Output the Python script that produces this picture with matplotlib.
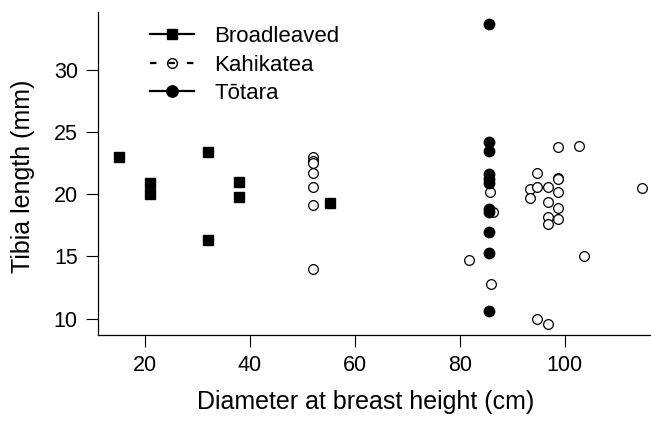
import matplotlib
matplotlib.use("Agg")
import matplotlib.pyplot as plt
from matplotlib.lines import Line2D

plt.rcParams['font.family'] = ['Liberation Sans', 'DejaVu Sans']

# diameter at breast height (cm) and tibia length (mm) by forest type
broad_dbh = [15.1, 21.0, 21.0, 32.0, 32.0, 38.0, 38.0, 55.3]
broad_tibia = [23.0, 20.9, 20.0, 23.4, 16.3, 21.0, 19.8, 19.3]

kahi_dbh = [52.0, 52.0, 52.0, 52.0, 52.0, 52.0, 52.0,
            81.8, 85.7, 86.3, 85.9, 93.3, 93.3, 94.6, 94.7, 94.7,
            96.7, 96.7, 96.7, 96.7, 96.7, 98.7, 98.7, 98.7, 98.7, 98.7, 98.7,
            102.7, 103.7, 114.7]
kahi_tibia = [23.0, 22.7, 22.5, 21.7, 20.6, 19.1, 14.0,
              14.7, 20.2, 18.6, 12.8, 20.4, 19.7, 21.7, 20.6, 10.0,
              20.6, 19.4, 18.2, 17.6, 9.6, 23.8, 21.3, 21.2, 20.2, 18.9, 18.0,
              23.9, 15.0, 20.5]

totara_dbh = [85.5, 85.5, 85.5, 85.5, 85.5, 85.5, 85.5, 85.5, 85.5, 85.5, 85.5]
totara_tibia = [33.7, 24.2, 23.5, 21.6, 21.2, 20.9, 18.8, 18.6, 17.0, 15.3, 10.6]

labels = ["Broadleaved", "Kahikatea", "T\u014dtara"]
xticks = [20, 40, 60, 80, 100]
yticks = [10, 15, 20, 25, 30]

fig = plt.figure(figsize=(6.51, 4.21), dpi=100)
ax = fig.add_axes([0.1505, 0.2043, 0.8495, 0.768])

ax.plot(broad_dbh, broad_tibia, ls='none', marker='s', ms=6.5, color='black',
        mec='black')
ax.plot(kahi_dbh, kahi_tibia, ls='none', marker='o', ms=7, mfc='white',
        mec='black', mew=0.9)
ax.plot(totara_dbh, totara_tibia, ls='none', marker='o', ms=7.5, color='black')

ax.set_xlim(11.05, 116.4)
ax.set_ylim(8.68, 34.68)
ax.set_xticks(xticks)
ax.set_yticks(yticks)
ax.spines['top'].set_visible(False)
ax.spines['right'].set_visible(False)
for s in ['left', 'bottom']:
    ax.spines[s].set_linewidth(0.9)
ax.tick_params(direction='out', length=8.5, width=0.8, labelsize=15.5, pad=6)

fig.text(365.5 / 651, 1 - 402 / 421, "Diameter at breast height (cm)",
         ha='center', va='center', fontsize=18)
fig.text(23 / 651, 1 - 176 / 421, "Tibia length (mm)", rotation=90,
         ha='center', va='center', fontsize=18)

handles = [
    Line2D([], [], color='black', lw=1.6, marker='s', ms=7.2),
    Line2D([], [], color='black', lw=1.6, ls=(0, (2.9, 5.4)), marker='o', ms=7,
           mfc='none', mec='black', mew=1.0),
    Line2D([], [], color='black', lw=1.6, marker='o', ms=8.2),
]
ax.legend(handles, labels, loc='upper left', frameon=False, fontsize=16,
          handlelength=2.0, handletextpad=0.9, labelspacing=0.34,
          borderpad=0, borderaxespad=0,
          bbox_to_anchor=(150 / 651, 1 - 26 / 421),
          bbox_transform=fig.transFigure)

fig.savefig("out.png", dpi=100)
